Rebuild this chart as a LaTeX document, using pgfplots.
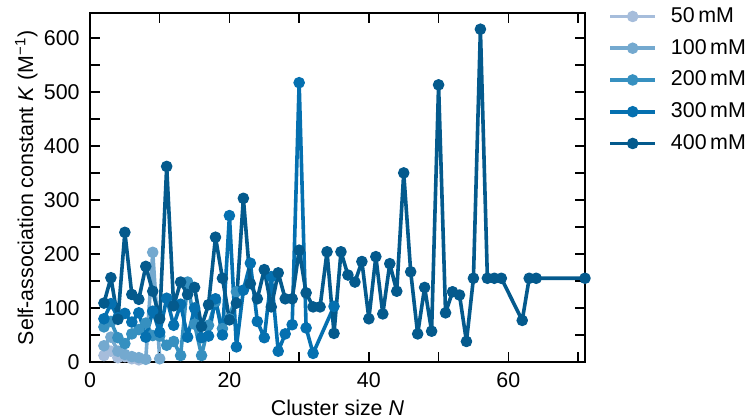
\documentclass[border=0pt]{standalone}
\usepackage{fontspec}
\setmainfont{Liberation Sans}
\usepackage{pgfplots}
\pgfplotsset{compat=1.18}
\definecolor{c50}{HTML}{A6BDDB}
\definecolor{c100}{HTML}{74A9CF}
\definecolor{c200}{HTML}{3690C0}
\definecolor{c300}{HTML}{0570B0}
\definecolor{c400}{HTML}{045A8D}
\newcommand{\lblfont}{\fontsize{10.7bp}{12.8bp}\selectfont}

\begin{document}
\lblfont
\begin{tikzpicture}
\useasboundingbox (0,0) rectangle (374bp,210bp);
\begin{axis}[
    at={(45bp,29bp)}, anchor=south west,
    scale only axis, width=247.5bp, height=174.5bp,
    xmin=0, xmax=71, ymin=0, ymax=646,
    xtick={0,20,40,60}, minor xtick={10,30,50,70},
    ytick={0,100,...,600}, minor ytick={50,150,...,550},
    tick align=inside, major tick length=5bp, minor tick length=5bp,
    every tick/.style={line width=0.75bp, black},
    axis line style={line width=1bp},
    axis on top,
    /pgf/number format/assume math mode=true,
    tick label style={font=\lblfont},
    xticklabel style={inner sep=0pt, yshift=-5bp},
    yticklabel style={inner sep=0pt, xshift=-5bp},
    xlabel={Cluster size \textit{N}},
    ylabel={Self-association constant \textit{K} (M\textsuperscript{−1})},
    label style={font=\lblfont},
    xlabel style={at={(axis description cs:0.5,0)}, anchor=north, inner sep=0pt, yshift=-19bp},
    ylabel style={at={(axis description cs:-0.105,0.5)}, anchor=south, inner sep=0pt},
    every axis plot/.append style={line width=1.8bp, line join=round, line cap=round,
        mark=*, mark size=2.6bp, mark options={line width=0.6bp}},
    legend style={at={(axis description cs:1,1)}, anchor=north west, xshift=11.5bp, yshift=3bp,
        draw=none, fill=none, inner sep=0pt, font=\lblfont, row sep=6.8bp,
        nodes={inner sep=0pt},
        /tikz/every odd column/.append style={column sep=7bp}},
    legend cell align=left,
    legend image code/.code={\draw[mark repeat=2,mark phase=2,line cap=butt,#1]
        plot coordinates {(0bp,0bp) (11.25bp,0bp) (22.5bp,0bp)};},
]
\addplot[color=c50] coordinates {
    (2,12)(3,20)(4,8)(5,10)(6,6)(7,4)};
\addlegendentry{50\,mM}
\addplot[color=c100] coordinates {
    (2,30)(3,46)(4,20)(5,14)(6,10)(7,8)(8,5)(9,203)(10,6)};
\addlegendentry{100\,mM}
\addplot[color=c200] coordinates {
    (2,65)(3,75)(4,45)(5,34)(6,52)(7,60)(8,72)(9,49)(10,48)(11,31)(12,38)
    (13,12)(14,148)(15,70)(16,12)(17,68)(18,112)(19,62)(20,80)(21,130)};
\addlegendentry{200\,mM}
\addplot[color=c300] coordinates {
    (2,80)(3,108)(4,82)(5,90)(6,74)(7,91)(8,46)(9,94)(10,55)(11,118)(12,68)
    (13,107)(14,46)(15,100)(16,45)(17,48)(18,117)(19,50)(20,271)(21,28)
    (22,133)(23,183)(24,75)(25,45)(26,158)(27,20)(28,52)(29,69)(30,517)
    (31,63)(32,16)(35,103)};
\addlegendentry{300\,mM}
\addplot[color=c400] coordinates {
    (2,109)(3,156)(4,79)(5,240)(6,125)(7,116)(8,177)(9,131)(10,80)(11,362)
    (12,104)(13,148)(14,125)(15,138)(16,66)(17,106)(18,231)(19,155)(20,78)
    (21,109)(22,303)(23,145)(24,117)(25,171)(26,102)(27,165)(28,117)(29,117)
    (30,207)(31,128)(32,102)(33,102)(34,204)(35,53)(36,204)(37,161)(38,148)
    (39,186)(40,80)(41,195)(42,89)(43,182)(44,131)(45,350)(46,167)(47,52)
    (48,138)(49,57)(50,513)(51,91)(52,130)(53,124)(54,38)(55,155)(56,616)
    (57,155)(58,155)(59,155)(62,77)(63,155)(64,155)(71,155)};
\addlegendentry{400\,mM}
\end{axis}
\end{tikzpicture}
\end{document}
